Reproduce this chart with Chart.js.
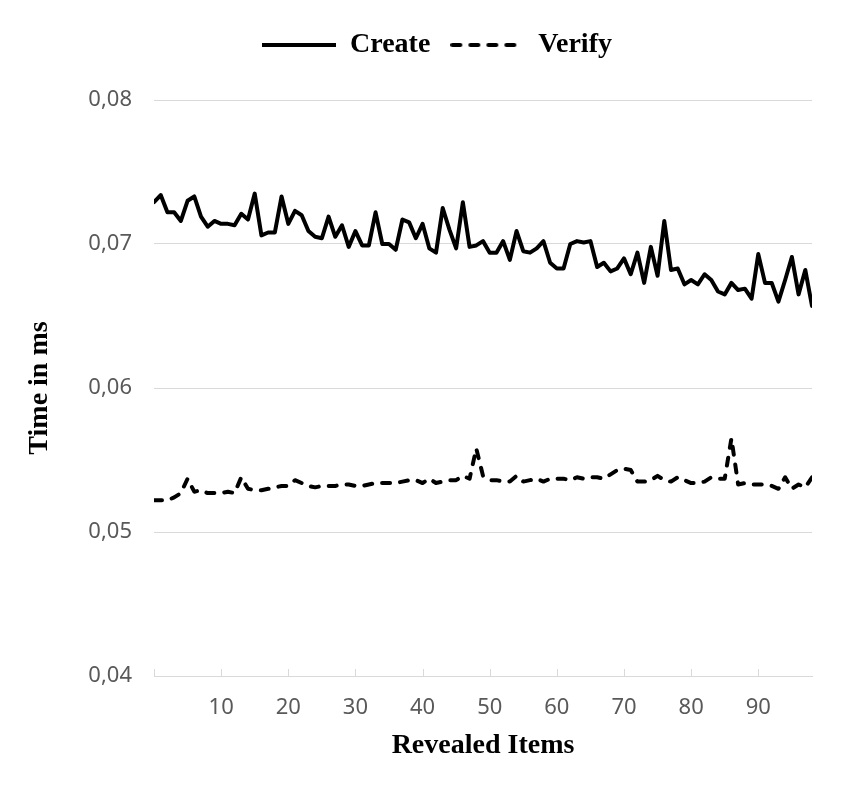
<!DOCTYPE html>
<html>
<head>
<meta charset="utf-8">
<title>Create / Verify</title>
<script src="https://cdn.jsdelivr.net/npm/chart.js@4.4.1/dist/chart.umd.min.js"></script>
<style>
    html, body {
        margin: 0;
        padding: 0;
        background: #ffffff;
    }
    #wrap {
        width: 844px;
        height: 793px;
    }
</style>
</head>
<body>
<div id="wrap"><canvas id="timeChart" width="844" height="793"></canvas></div>
<script>
// revealed items on the x axis (0..98)
const revealedItems = Array.from({ length: 99 }, (_, i) => i);

const createTimes = [
    0.0729, 0.0734, 0.0722, 0.0722, 0.0716, 0.0730, 0.0733, 0.0719, 0.0712, 0.0716,
    0.0714, 0.0714, 0.0713, 0.0721, 0.0717, 0.0735, 0.0706, 0.0708, 0.0708, 0.0733,
    0.0714, 0.0723, 0.0720, 0.0709, 0.0705, 0.0704, 0.0719, 0.0705, 0.0713, 0.0698,
    0.0709, 0.0699, 0.0699, 0.0722, 0.0700, 0.0700, 0.0696, 0.0717, 0.0715, 0.0704,
    0.0714, 0.0697, 0.0694, 0.0725, 0.0710, 0.0697, 0.0729, 0.0698, 0.0699, 0.0702,
    0.0694, 0.0694, 0.0702, 0.0689, 0.0709, 0.0695, 0.0694, 0.0697, 0.0702, 0.0687,
    0.0683, 0.0683, 0.0700, 0.0702, 0.0701, 0.0702, 0.0684, 0.0687, 0.0681, 0.0683,
    0.0690, 0.0679, 0.0694, 0.0673, 0.0698, 0.0678, 0.0716, 0.0682, 0.0683, 0.0672,
    0.0675, 0.0672, 0.0679, 0.0675, 0.0667, 0.0665, 0.0673, 0.0668, 0.0669, 0.0662,
    0.0693, 0.0673, 0.0673, 0.0660, 0.0675, 0.0691, 0.0665, 0.0682, 0.0657
];

const verifyTimes = [
    0.0522, 0.0522, 0.0522, 0.0524, 0.0527, 0.0537, 0.0528, 0.0529, 0.0527, 0.0527,
    0.0527, 0.0528, 0.0527, 0.0538, 0.0530, 0.0529, 0.0529, 0.0530, 0.0531, 0.0532,
    0.0532, 0.0536, 0.0534, 0.0532, 0.0531, 0.0532, 0.0532, 0.0532, 0.0533, 0.0533,
    0.0532, 0.0532, 0.0533, 0.0534, 0.0534, 0.0534, 0.0534, 0.0535, 0.0536, 0.0536,
    0.0534, 0.0537, 0.0534, 0.0535, 0.0536, 0.0536, 0.0539, 0.0537, 0.0558, 0.0539,
    0.0536, 0.0536, 0.0535, 0.0535, 0.0539, 0.0535, 0.0536, 0.0537, 0.0535, 0.0537,
    0.0537, 0.0537, 0.0536, 0.0538, 0.0537, 0.0538, 0.0538, 0.0537, 0.0540, 0.0543,
    0.0544, 0.0543, 0.0535, 0.0535, 0.0536, 0.0539, 0.0536, 0.0535, 0.0538, 0.0536,
    0.0534, 0.0534, 0.0535, 0.0538, 0.0537, 0.0537, 0.0565, 0.0533, 0.0534, 0.0533,
    0.0533, 0.0533, 0.0532, 0.0530, 0.0538, 0.0530, 0.0533, 0.0531, 0.0538
];

const yTicks = [0.04, 0.05, 0.06, 0.07, 0.08];
const xTickStep = 10;

const serifBold = { family: "'Liberation Serif', 'Times New Roman', serif", size: 28, weight: "bold" };
const sansTick = { family: "'Noto Sans', 'Open Sans', sans-serif", size: 22 };
const gridGrey = "#d9d9d9";
const lineWidth = 4;
const verifyDash = [8, 10];

// legend samples: a short solid or dashed stroke
function legendSample(dash) {
    const c = document.createElement("canvas");
    c.width = 74;
    c.height = 8;
    const g = c.getContext("2d");
    g.strokeStyle = "#000000";
    g.lineWidth = lineWidth;
    g.lineCap = dash.length ? "round" : "butt";
    g.setLineDash(dash);
    g.beginPath();
    g.moveTo(dash.length ? 2 : 0, 4);
    g.lineTo(74, 4);
    g.stroke();
    return c;
}

// extra room below the legend
const legendSpacing = {
    id: "legendSpacing",
    beforeInit(chart) {
        const origFit = chart.legend.fit;
        chart.legend.fit = function fit() {
            origFit.bind(chart.legend)();
            this.height += 31;
        };
    },
    afterLayout(chart) {
        // nudge the legend to the right, like the original
        chart.legend.left += 31;
        chart.legend.right += 31;
    }
};

// small tick marks that point up into the plot
const innerTicks = {
    id: "innerTicks",
    beforeDatasetsDraw(chart) {
        const xScale = chart.scales.x;
        const ctx = chart.ctx;
        const bottom = chart.chartArea.bottom;
        ctx.save();
        ctx.strokeStyle = gridGrey;
        ctx.lineWidth = 1;
        xScale.ticks.forEach(t => {
            if (t.value % xTickStep !== 0) return;
            const x = Math.round(xScale.getPixelForValue(t.value)) + 0.5;
            ctx.beginPath();
            ctx.moveTo(x, bottom);
            ctx.lineTo(x, bottom - 7);
            ctx.stroke();
        });
        ctx.restore();
    }
};

const ctx = document.getElementById("timeChart").getContext("2d");

new Chart(ctx, {
    type: "line",
    data: {
        labels: revealedItems,
        datasets: [
            {
                label: "Create",
                data: createTimes,
                borderColor: "#000000",
                backgroundColor: "#000000",
                borderWidth: lineWidth,
                borderJoinStyle: "round",
                borderCapStyle: "round",
                pointRadius: 0,
                pointStyle: legendSample([]),
                tension: 0,
            },
            {
                label: "Verify",
                data: verifyTimes,
                borderColor: "#000000",
                backgroundColor: "#000000",
                borderWidth: lineWidth,
                borderDash: verifyDash,
                borderJoinStyle: "round",
                borderCapStyle: "round",
                pointRadius: 0,
                pointStyle: legendSample(verifyDash),
                tension: 0,
            },
        ],
    },
    options: {
        responsive: false,
        animation: false,
        layout: {
            padding: { top: 11, right: 32, bottom: 0, left: 0 },
        },
        plugins: {
            legend: {
                position: "top",
                labels: {
                    usePointStyle: true,
                    pointStyleWidth: 74,
                    boxHeight: 28,
                    padding: 20,
                    color: "#000000",
                    font: serifBold,
                },
            },
            tooltip: { enabled: false },
        },
        scales: {
            x: {
                type: "linear",
                min: 0,
                max: 98,
                afterFit(scale) {
                    scale.height = 117;
                },
                ticks: {
                    stepSize: xTickStep,
                    autoSkip: false,
                    maxRotation: 0,
                    padding: 19,
                    color: "#595959",
                    font: sansTick,
                    callback: v => (v % xTickStep === 0 && v > 0 ? String(v) : ""),
                },
                grid: {
                    display: false,
                    drawTicks: false,
                },
                border: {
                    display: true,
                    color: gridGrey,
                    width: 1,
                },
                title: {
                    display: true,
                    text: "Revealed Items",
                    color: "#000000",
                    font: serifBold,
                    padding: { top: 0, bottom: 30 },
                },
            },
            y: {
                min: yTicks[0],
                max: yTicks[yTicks.length - 1],
                afterFit(scale) {
                    scale.width = 154;
                },
                afterBuildTicks(scale) {
                    scale.ticks = yTicks.map(v => ({ value: v }));
                },
                ticks: {
                    padding: 22,
                    color: "#595959",
                    font: sansTick,
                    callback: v => v.toFixed(2).replace(".", ","),
                },
                grid: {
                    color: gridGrey,
                    lineWidth: 1,
                    drawTicks: false,
                },
                border: {
                    display: false,
                },
                title: {
                    display: true,
                    text: "Time in ms",
                    color: "#000000",
                    font: serifBold,
                    padding: { top: 23, bottom: 0 },
                },
            },
        },
    },
    plugins: [legendSpacing, innerTicks],
});
</script>
</body>
</html>
